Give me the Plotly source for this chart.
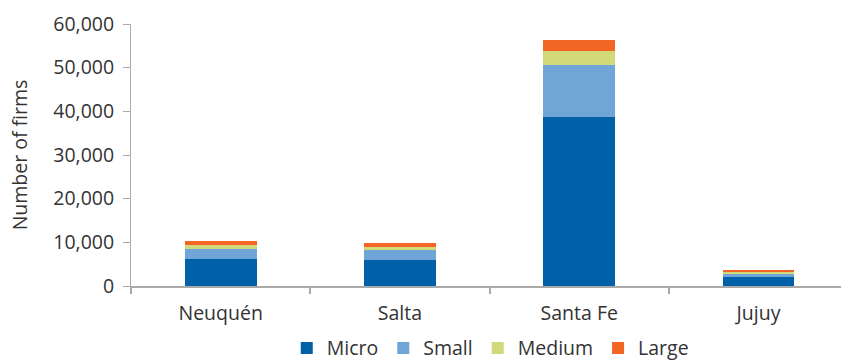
import plotly.graph_objects as go

provinces = ["Neuquén", "Salta", "Santa Fe", "Jujuy"]
micro = [6100, 5900, 38600, 2100]
small = [2300, 2300, 12100, 800]
medium = [1000, 700, 3200, 350]
large = [800, 900, 2500, 250]

series = [("Micro", micro, "#0061A9"), ("Small", small, "#70A5D7"),
          ("Medium", medium, "#D3D978"), ("Large", large, "#F26524")]

fig = go.Figure()
for name, vals, col in series:
    fig.add_trace(go.Bar(x=provinces, y=vals, name=name, marker_color=col,
                         marker_line_width=0))

fs = 19.5
fig.update_layout(
    barmode="stack", bargap=0.6,
    width=841, height=361,
    margin=dict(l=131, r=0, t=24, b=75, autoexpand=False),
    paper_bgcolor="white", plot_bgcolor="white",
    font=dict(family="Open Sans, sans-serif", size=fs, color="#333333"),
    legend=dict(orientation="h", x=0.506, xanchor="center", xref="paper",
                y=-0.163, yanchor="top", yref="paper",
                font=dict(size=fs), traceorder="normal", itemwidth=30),
    xaxis=dict(range=[-0.5, 3.46], showline=True, linecolor="#AAAAAA", linewidth=2,
               ticks="outside", tickson="boundaries", tickcolor="#AAAAAA",
               ticklen=6, tickwidth=2, tickfont=dict(size=fs), ticklabelstandoff=9),
    yaxis=dict(range=[0, 60000], dtick=10000, tickformat=",", showgrid=False,
               showline=True, linecolor="#AAAAAA", linewidth=1, ticks="outside",
               tickcolor="#AAAAAA", ticklen=7, zeroline=False,
               tickfont=dict(size=fs), ticklabelstandoff=5,
               title=dict(text="Number of firms", font=dict(size=fs), standoff=20)),
)
fig.write_html("out.html", config={"displayModeBar": False},
               post_script="document.body.style.margin='0';")
